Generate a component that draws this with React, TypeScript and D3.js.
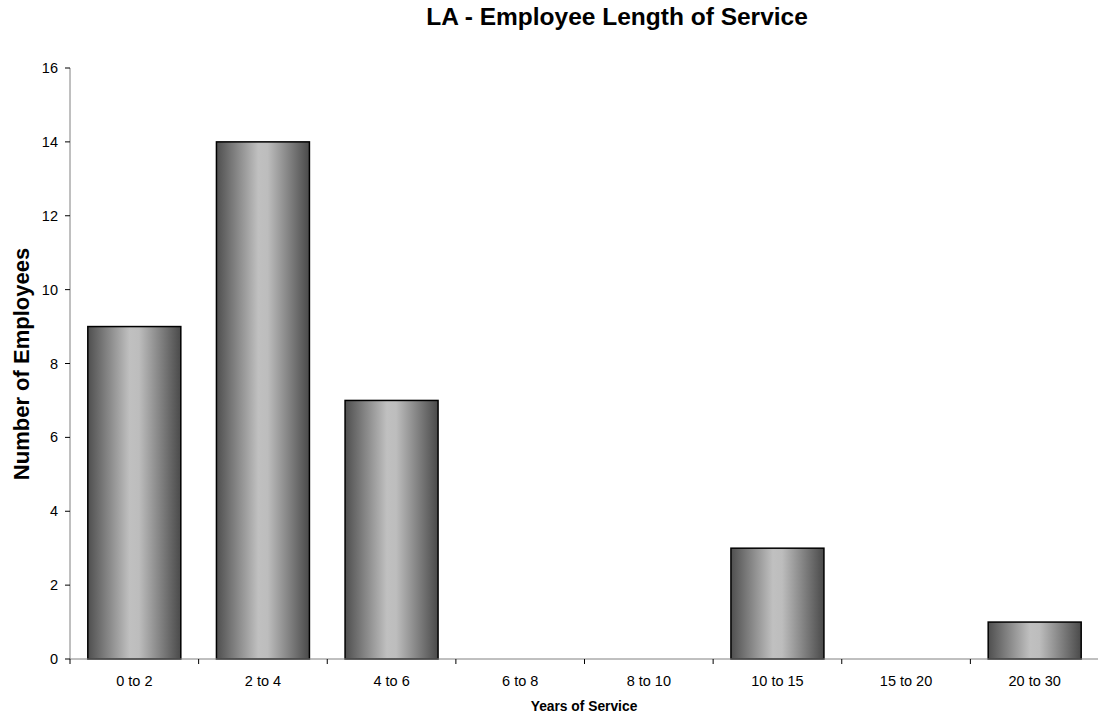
import { useEffect, useRef } from 'react'
import * as d3 from 'd3'

const categories = ['0 to 2', '2 to 4', '4 to 6', '6 to 8', '8 to 10', '10 to 15', '15 to 20', '20 to 30']
const employees = [9, 14, 7, 0, 0, 3, 0, 1]
const yTicks = [0, 2, 4, 6, 8, 10, 12, 14, 16]

const W = 1098
const H = 718
const FONT = '"Liberation Sans", Arial, sans-serif'

export default function App() {
  const ref = useRef<SVGSVGElement | null>(null)

  useEffect(() => {
    if (!ref.current) {return}
    const svg = d3.select(ref.current)
    svg.selectAll('*').remove()

    const left = 70
    const right = 1099
    const top = 68
    const bottom = 659

    const x = d3.scaleBand<string>().domain(categories).range([left, right]).paddingInner(0.277).paddingOuter(0.1385)
    const y = d3.scaleLinear().domain([0, 16]).range([bottom, top])

    const defs = svg.append('defs')
    const grad = defs.append('linearGradient').attr('id', 'barGrad').attr('x1', '0%').attr('x2', '100%').attr('y1', '0%').attr('y2', '0%')
    grad.append('stop').attr('offset', '0%').attr('stop-color', '#4f4f4f')
    grad.append('stop').attr('offset', '45%').attr('stop-color', '#c0c0c0')
    grad.append('stop').attr('offset', '55%').attr('stop-color', '#bdbdbd')
    grad.append('stop').attr('offset', '100%').attr('stop-color', '#4a4a4a')

    // bars
    svg.append('g')
      .selectAll('rect')
      .data(categories.map((c, i) => ({ c, v: employees[i] })).filter((d) => d.v > 0))
      .join('rect')
      .attr('x', (d) => x(d.c) ?? 0)
      .attr('y', (d) => y(d.v))
      .attr('width', x.bandwidth())
      .attr('height', (d) => y(0) - y(d.v))
      .attr('fill', 'url(#barGrad)')
      .attr('stroke', '#000')
      .attr('stroke-width', 1.5)

    // y axis
    const ya = svg.append('g').attr('font-family', FONT).attr('font-size', 14.5)
    ya.append('line').attr('x1', left).attr('x2', left).attr('y1', top).attr('y2', bottom).attr('stroke', '#808080')
    yTicks.forEach((t) => {
      ya.append('line').attr('x1', left - 5).attr('x2', left).attr('y1', y(t)).attr('y2', y(t)).attr('stroke', '#000')
      ya.append('text').attr('x', left - 12).attr('y', y(t)).attr('dy', '0.35em').attr('text-anchor', 'end').text(t)
    })

    // x axis
    const xa = svg.append('g').attr('font-family', FONT).attr('font-size', 14.5)
    xa.append('line').attr('x1', left).attr('x2', right).attr('y1', bottom).attr('y2', bottom).attr('stroke', '#808080')
    const step = x.step()
    d3.range(categories.length + 1).forEach((i) => {
      const tx = left + i * step
      xa.append('line').attr('x1', tx).attr('x2', tx).attr('y1', bottom).attr('y2', bottom + 5).attr('stroke', '#000')
    })
    categories.forEach((c) => {
      xa.append('text').attr('x', (x(c) ?? 0) + x.bandwidth() / 2).attr('y', bottom + 27).attr('text-anchor', 'middle').text(c)
    })

    svg.append('text').attr('x', 617).attr('y', 25).attr('text-anchor', 'middle')
      .attr('font-family', FONT).attr('font-size', 24.5).attr('font-weight', 'bold').text('LA - Employee Length of Service')
    svg.append('text').attr('x', 584).attr('y', 711).attr('text-anchor', 'middle')
      .attr('font-family', FONT).attr('font-size', 13.8).attr('font-weight', 'bold').text('Years of Service')
    svg.append('text').attr('transform', `translate(29,364) rotate(-90)`).attr('text-anchor', 'middle')
      .attr('font-family', FONT).attr('font-size', 22).attr('font-weight', 'bold').text('Number of Employees')
  }, [])

  return (
    <svg ref={ref} width={W} height={H} style={{ position: 'absolute', left: 0, top: 0, background: '#fff' }} />
  )
}
